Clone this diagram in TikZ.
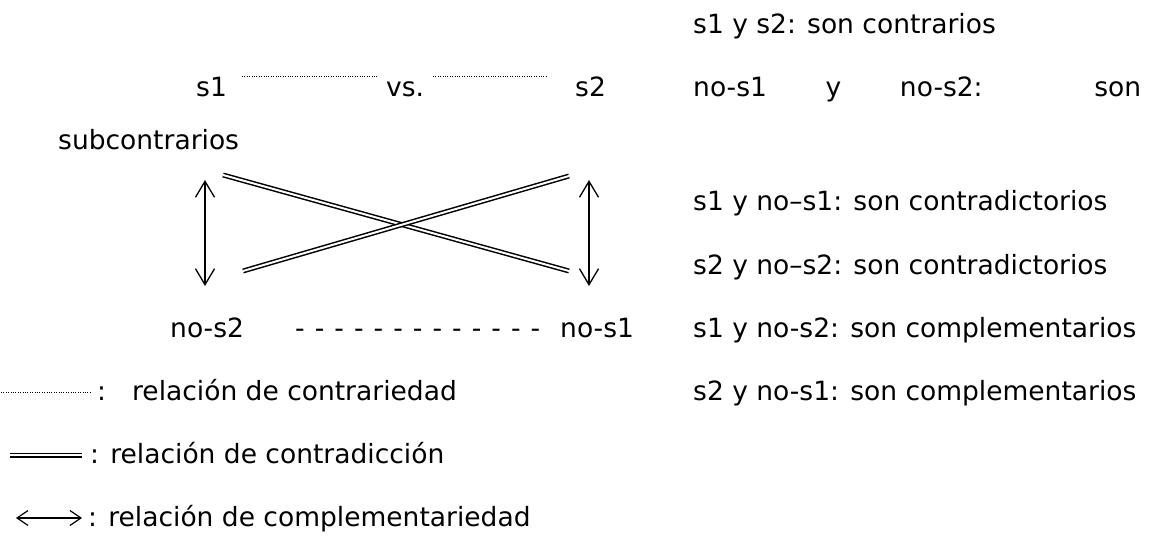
\documentclass[tikz,border=0pt]{standalone}
\usepackage{fontspec}
\setmainfont{DejaVu Sans}
\usetikzlibrary{arrows.meta}
\begin{document}
\begin{tikzpicture}[x=1pt,y=-1pt,
  txt/.style={anchor=base west, inner sep=0pt, font=\fontsize{26.5}{31}\selectfont},
  dotline/.style={line width=0.8pt, dash pattern=on 0.8pt off 1.6pt},
  dbl/.style={double, double distance=2pt, line width=1.5pt},
  comp/.style={line width=1.3pt, {Straight Barb[length=16pt,width=19pt]}-{Straight Barb[length=16pt,width=19pt]}},
  compsmall/.style={line width=1.2pt, {Straight Barb[length=11pt,width=15pt]}-{Straight Barb[length=11pt,width=15pt]}}]
\useasboundingbox (0,0) rectangle (1157,540);
% right column
\node[txt] (r1) at (693,34) {s1 y s2: son contrarios};
\node[txt] (r2) at (693,97) {\makebox[448pt][s]{no-s1 y no-s2: son}};
\node[txt] (r3) at (58,150) {subcontrarios};
\node[txt] (r4) at (693,211) {s1 y no–s1: son contradictorios};
\node[txt] (r5) at (693,274) {s2 y no–s2: son contradictorios};
\node[txt] (r6) at (693,337) {s1 y no-s2: son complementarios};
\node[txt] (r7) at (693,400) {s2 y no-s1: son complementarios};
% square
\node[txt] (s1) at (196,97) {s1};
\node[txt] (vs) at (386,97) {vs.};
\node[txt] (s2) at (575,97) {s2};
\node[txt] (ns2) at (170,337) {no-s2};
\node[txt] (dsh) at (295,337) {\makebox[245pt][s]{- - - - - - - - - - - - -}};
\node[txt] (ns1) at (560,337) {no-s1};
\coordinate (d1a) at (242,76); \coordinate (d1b) at (377,76);
\coordinate (d2a) at (433,76); \coordinate (d2b) at (548,76);
\draw[dotline] (d1a) -- (d1b);
\draw[dotline] (d2a) -- (d2b);
\coordinate (la) at (205,180); \coordinate (lb) at (205,286);
\coordinate (ra) at (589,180); \coordinate (rb) at (589,286);
\draw[comp] (la) -- (lb);
\draw[comp] (ra) -- (rb);
\coordinate (xa) at (223,175); \coordinate (xb) at (569,271);
\coordinate (ya) at (243,271); \coordinate (yb) at (569,176);
\draw[dbl] (xa) -- (xb);
\draw[dbl] (ya) -- (yb);
% legend
\coordinate (g1a) at (1,392); \coordinate (g1b) at (90,392);
\draw[dotline] (g1a) -- (g1b);
\node[txt] (g1) at (97,400) {:\hspace{26pt}relación de contrariedad};
\coordinate (g2a) at (10,455); \coordinate (g2b) at (82,455);
\draw[dbl] (g2a) -- (g2b);
\node[txt] (g2) at (90,463) {: relación de contradicción};
\coordinate (g3a) at (16,518); \coordinate (g3b) at (82,518);
\draw[compsmall] (g3a) -- (g3b);
\node[txt] (g3) at (88,526) {: relación de complementariedad};
\end{tikzpicture}
\end{document}
